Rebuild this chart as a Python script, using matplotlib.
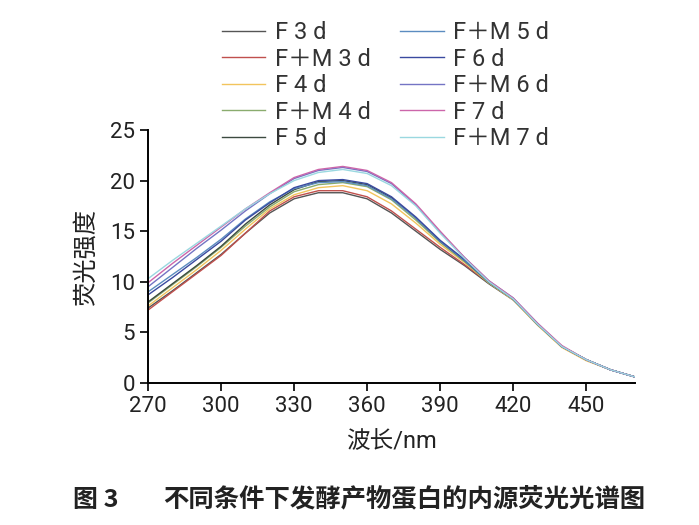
import matplotlib.pyplot as plt

plt.rcParams['font.family'] = ['Roboto', 'Noto Sans CJK SC', 'DejaVu Sans']

wavelength = [270, 280, 290, 300, 310, 320, 330, 340, 350, 360, 370,
              380, 390, 400, 410, 420, 430, 440, 450, 460, 470]

labels = ['F 3 d', 'F＋M 3 d', 'F 4 d', 'F＋M 4 d', 'F 5 d',
          'F＋M 5 d', 'F 6 d', 'F＋M 6 d', 'F 7 d', 'F＋M 7 d']
colors = ['#555555', '#c0504d', '#f2c45c', '#8aac6e', '#3c4a40',
          '#5b8cc0', '#3a4aa0', '#7474c4', '#cc66aa', '#9ad8e0']

f3 = [7.4, 9.1, 10.9, 12.7, 14.8, 16.8, 18.2, 18.8, 18.8, 18.2, 16.8,
      15.0, 13.2, 11.6, 9.8, 8.2, 5.8, 3.6, 2.3, 1.3, 0.6]
fm3 = [7.2, 9.0, 10.8, 12.6, 14.8, 17.0, 18.4, 19.0, 19.0, 18.4, 17.0,
       15.2, 13.4, 11.7, 9.9, 8.3, 5.8, 3.6, 2.3, 1.3, 0.6]
f4 = [7.6, 9.4, 11.2, 13.1, 15.2, 17.2, 18.6, 19.3, 19.5, 19.0, 17.7,
      15.8, 13.7, 11.9, 9.9, 8.2, 5.7, 3.5, 2.2, 1.3, 0.6]
fm4 = [7.9, 9.7, 11.5, 13.4, 15.5, 17.4, 18.9, 19.6, 19.8, 19.4, 18.1,
       16.1, 13.9, 12.0, 9.9, 8.3, 5.8, 3.6, 2.3, 1.3, 0.6]
f5 = [8.0, 9.8, 11.6, 13.5, 15.7, 17.6, 19.1, 19.9, 20.0, 19.6, 18.3,
      16.3, 14.0, 12.1, 10.0, 8.3, 5.8, 3.6, 2.3, 1.3, 0.6]
fm5 = [9.0, 10.7, 12.4, 14.2, 16.2, 17.9, 19.2, 19.8, 19.9, 19.5, 18.2,
       16.3, 14.0, 12.1, 10.0, 8.3, 5.8, 3.6, 2.3, 1.3, 0.6]
f6 = [8.7, 10.4, 12.2, 14.0, 16.1, 17.8, 19.3, 20.0, 20.1, 19.7, 18.4,
      16.4, 14.1, 12.2, 10.0, 8.3, 5.8, 3.6, 2.3, 1.3, 0.6]
fm6 = [9.5, 11.4, 13.3, 15.1, 17.0, 18.7, 20.2, 21.0, 21.3, 20.9, 19.7,
       17.6, 14.9, 12.4, 10.1, 8.4, 5.9, 3.6, 2.3, 1.3, 0.6]
f7 = [9.9, 11.8, 13.6, 15.4, 17.2, 18.8, 20.3, 21.1, 21.4, 21.0, 19.8,
      17.7, 15.0, 12.4, 10.1, 8.4, 5.9, 3.7, 2.3, 1.3, 0.6]
fm7 = [10.3, 12.1, 13.8, 15.5, 17.2, 18.7, 20.0, 20.8, 21.1, 20.7, 19.5,
       17.5, 14.8, 12.3, 10.0, 8.3, 5.8, 3.6, 2.3, 1.3, 0.6]

series = [f3, fm3, f4, fm4, f5, fm5, f6, fm6, f7, fm7]

fig = plt.figure(figsize=(6.99, 5.25), dpi=100)
ax = fig.add_axes([0.2117, 0.2705, 0.6967, 0.4819])

for vals, lab, col in zip(series, labels, colors):
    ax.plot(wavelength, vals, color=col, lw=1.0, label=lab)

ax.set_xlim(270, 470)
ax.set_ylim(0, 25)
ax.set_xticks([270, 300, 330, 360, 390, 420, 450])
ax.set_yticks([0, 5, 10, 15, 20, 25])
ax.spines['top'].set_visible(False)
ax.spines['right'].set_visible(False)
for s in ['left', 'bottom']:
    ax.spines[s].set_linewidth(1.4)
ax.tick_params(direction='out', length=6, width=1.4, labelsize=16, colors='#222222')
ax.set_xlabel('波长/nm', fontsize=17, color='#222222', labelpad=9)
ax.set_ylabel('荧光强度', fontsize=17.5, color='#222222', labelpad=9)

leg = fig.legend(loc='upper left', bbox_to_anchor=(0.317, 0.960), ncol=2,
                 frameon=False, fontsize=17, handlelength=1.85, handletextpad=0.4,
                 columnspacing=1.25, labelspacing=0.15, borderpad=0, borderaxespad=0)
for t in leg.get_texts():
    t.set_color('#333333')

fig.text(0.104, 0.034, '图 3', fontsize=18, fontweight='bold', family='Noto Sans CJK SC', color='#222222')
fig.text(0.233, 0.034, '不同条件下发酵产物蛋白的内源荧光光谱图', fontsize=18.3,
         fontweight='bold', family='Noto Sans CJK SC', color='#222222')

fig.savefig('out.png', dpi=100)
